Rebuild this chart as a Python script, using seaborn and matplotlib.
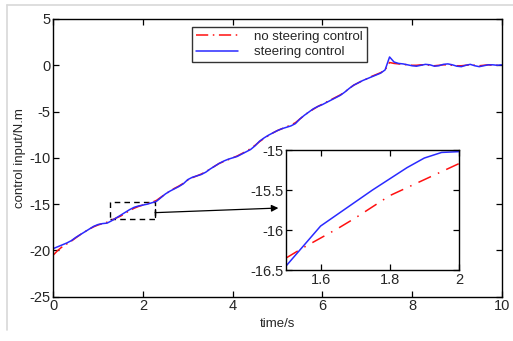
import numpy as np
import pandas as pd
import matplotlib
matplotlib.use("Agg")
import matplotlib.pyplot as plt
import seaborn as sns
from matplotlib.lines import Line2D
from matplotlib.patches import Rectangle

# ---------------- data ----------------
time_s = [0.0, 0.1, 0.2, 0.3, 0.4, 0.5, 0.6, 0.7, 0.8, 0.9,
          1.0, 1.1, 1.2, 1.3, 1.4, 1.5, 1.6, 1.7, 1.8, 1.9,
          2.0, 2.1, 2.2, 2.3, 2.4, 2.5, 2.6, 2.7, 2.8, 2.9,
          3.0, 3.1, 3.2, 3.3, 3.4, 3.5, 3.6, 3.7, 3.8, 3.9,
          4.0, 4.1, 4.2, 4.3, 4.4, 4.5, 4.6, 4.7, 4.8, 4.9,
          5.0, 5.1, 5.2, 5.3, 5.4, 5.5, 5.6, 5.7, 5.8, 5.9,
          6.0, 6.1, 6.2, 6.3, 6.4, 6.5, 6.6, 6.7, 6.8, 6.9,
          7.0, 7.1, 7.2, 7.3, 7.4, 7.5, 7.6, 7.7, 7.8, 7.9,
          8.0, 8.1, 8.2, 8.3, 8.4, 8.5, 8.6, 8.7, 8.8, 8.9,
          9.0, 9.1, 9.2, 9.3, 9.4, 9.5, 9.6, 9.7, 9.8, 9.9, 10.0]

steering = [-19.8, -19.6, -19.4, -19.2, -18.95, -18.6, -18.3, -18.0, -17.7, -17.4,
            -17.2, -17.1, -17.05, -16.8, -16.5, -16.2, -15.9, -15.6, -15.35, -15.2,
            -15.1, -15.0, -14.85, -14.7, -14.3, -13.9, -13.6, -13.35, -13.1, -12.8,
            -12.35, -12.1, -11.95, -11.8, -11.55, -11.2, -10.9, -10.6, -10.35, -10.15,
            -10.0, -9.85, -9.6, -9.35, -9.1, -8.7, -8.2, -7.85, -7.55, -7.3,
            -7.05, -6.85, -6.7, -6.55, -6.3, -5.8, -5.4, -5.05, -4.7, -4.45,
            -4.25, -4.0, -3.75, -3.5, -3.25, -2.9, -2.5, -2.15, -1.9, -1.65,
            -1.45, -1.25, -1.05, -0.85, -0.5, 0.9, 0.35, 0.2, 0.15, 0.05,
            -0.05, -0.1, 0.0, 0.1, 0.05, -0.1, -0.05, 0.1, 0.15, 0.05,
            -0.1, -0.15, 0.0, 0.1, -0.05, -0.15, -0.05, 0.05, 0.05, 0.0, 0.05]

no_steering = [-20.5, -20.0, -19.6, -19.3, -19.0, -18.65, -18.3, -18.0, -17.7, -17.45,
               -17.25, -17.1, -16.95, -16.75, -16.5, -16.3, -16.0, -15.7, -15.45, -15.25,
               -15.1, -14.95, -14.8, -14.6, -14.25, -13.9, -13.6, -13.3, -13.05, -12.75,
               -12.4, -12.15, -11.95, -11.75, -11.5, -11.2, -10.9, -10.6, -10.4, -10.2,
               -10.0, -9.8, -9.55, -9.3, -9.0, -8.65, -8.25, -7.9, -7.6, -7.3,
               -7.05, -6.85, -6.65, -6.45, -6.2, -5.8, -5.4, -5.05, -4.75, -4.45,
               -4.2, -3.95, -3.7, -3.45, -3.2, -2.9, -2.5, -2.15, -1.9, -1.65,
               -1.45, -1.2, -1.0, -0.8, -0.5, 0.3, 0.2, 0.15, 0.1, 0.05,
               0.0, 0.0, 0.05, 0.05, 0.0, -0.05, 0.0, 0.05, 0.05, 0.0,
               -0.05, -0.05, 0.0, 0.05, 0.0, -0.05, 0.0, 0.05, 0.0, 0.0, 0.0]

inset_time = [1.5, 1.55, 1.6, 1.65, 1.7, 1.75, 1.8, 1.85, 1.9, 1.95, 2.0]
inset_steering = [-16.45, -16.2, -15.95, -15.8, -15.65, -15.5, -15.36, -15.22, -15.1, -15.03, -15.02]
inset_no_steering = [-16.35, -16.22, -16.1, -15.98, -15.85, -15.71, -15.57, -15.47, -15.37, -15.27, -15.17]

x_ticks = [0, 2, 4, 6, 8, 10]
y_ticks = [5, 0, -5, -10, -15, -20, -25]
inset_x_ticks = [1.6, 1.8, 2.0]
inset_x_labels = ["1.6", "1.8", "2"]
inset_y_ticks = [-15, -15.5, -16, -16.5]
inset_y_labels = ["-15", "-15.5", "-16", "-16.5"]

# ---------------- style ----------------
sns.set_style("ticks")
plt.rcParams["font.family"] = ["Liberation Sans", "DejaVu Sans"]
plt.rcParams["xtick.direction"] = "in"
plt.rcParams["ytick.direction"] = "in"
plt.rcParams["axes.unicode_minus"] = False

RED = "#ff1010"
BLUE = "#2a2aff"

fig = plt.figure(figsize=(5.13, 3.41), dpi=100)
ax = fig.add_axes([0.1039, 0.1299, 0.874, 0.8144])

df = pd.DataFrame({"t": time_s, "steer": steering, "nosteer": no_steering})
sns.lineplot(data=df, x="t", y="nosteer", ax=ax, color=RED, lw=1.1,
             label="no steering control")
ax.lines[-1].set_dashes((8, 3, 1, 3))
sns.lineplot(data=df, x="t", y="steer", ax=ax, color=BLUE, lw=1.1,
             label="steering control")

ax.set_xlim(0, 10)
ax.set_ylim(-25, 5)
ax.set_xticks(x_ticks)
ax.set_yticks(y_ticks)
ax.tick_params(axis="both", labelsize=10.5, length=4, width=0.9, color="black",
               top=True, right=True, pad=2)
ax.set_xlabel("time/s", fontsize=9.5, labelpad=3)
ax.set_ylabel("control input/N.m", fontsize=9.5, labelpad=2)
for s in ax.spines.values():
    s.set_color("black")
    s.set_linewidth(1.0)

leg = ax.legend(loc="upper left", bbox_to_anchor=(0.31, 0.972), frameon=True,
                fancybox=False, edgecolor="black", fontsize=9.5, handlelength=3.2,
                borderpad=0.3, labelspacing=0.25, handletextpad=1.2,
                borderaxespad=0)
leg.get_frame().set_linewidth(1.0)
leg.legend_handles[0].set_dashes((8, 3, 1, 3))

# zoom rectangle and arrow
ax.add_patch(Rectangle((1.27, -16.6), 1.0, 1.85, fill=False, edgecolor="black",
                       lw=1.0, linestyle=(0, (4, 3))))
ax.annotate("", xy=(5.02, -15.42), xytext=(2.27, -15.92),
            arrowprops=dict(arrowstyle="-|>", color="black", lw=0.9,
                            shrinkA=0, shrinkB=0, mutation_scale=10))
ax.plot([2.27, 2.27], [-16.35, -15.5], color="black", lw=1.0)

# inset
axin = fig.add_axes([0.5575, 0.208, 0.337, 0.352])
dfi = pd.DataFrame({"t": inset_time, "steer": inset_steering, "nosteer": inset_no_steering})
sns.lineplot(data=dfi, x="t", y="nosteer", ax=axin, color=RED, lw=1.1)
axin.lines[-1].set_dashes((9, 5, 1, 5))
sns.lineplot(data=dfi, x="t", y="steer", ax=axin, color=BLUE, lw=1.1)
axin.set_xlim(1.5, 2.0)
axin.set_ylim(-16.5, -15)
axin.set_xticks(inset_x_ticks)
axin.set_xticklabels(inset_x_labels)
axin.set_yticks(inset_y_ticks)
axin.set_yticklabels(inset_y_labels)
axin.tick_params(axis="both", labelsize=10.5, length=4, width=0.9, color="black",
                 top=True, right=True, pad=2)
axin.set_xlabel("")
axin.set_ylabel("")
for s in axin.spines.values():
    s.set_color("black")
    s.set_linewidth(1.0)

# light frame around the figure
fig.add_artist(Line2D([7 / 513, 1.0], [1 - 5 / 341, 1 - 5 / 341], color="#d8d8d8", lw=1.2))
fig.add_artist(Line2D([7 / 513, 7 / 513], [1 - 5 / 341, 1 - 330 / 341], color="#d8d8d8", lw=1.2))

fig.savefig("out.png", dpi=100)
